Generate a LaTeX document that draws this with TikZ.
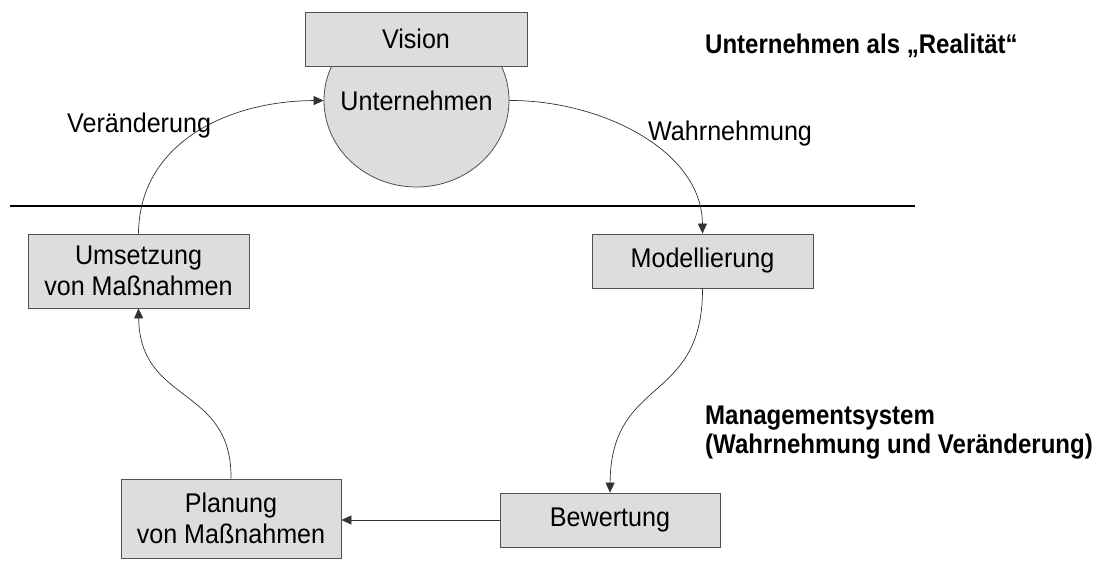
\documentclass[tikz,border=0pt]{standalone}
\usepackage{fontspec}
\setmainfont{Liberation Sans}[FakeStretch=0.93]
\newfontfamily\headfont{Liberation Sans}[FakeStretch=0.89]
\usetikzlibrary{arrows.meta,shapes.geometric}
\definecolor{boxfill}{RGB}{221,221,221}
\definecolor{boxline}{RGB}{80,80,80}
\definecolor{linkcol}{RGB}{50,50,50}
\begin{document}
\begin{tikzpicture}[x=1pt,y=-1pt,
  every node/.style={font=\fontsize{27}{31}\selectfont, inner sep=0pt},
  procbox/.style={draw=boxline, fill=boxfill, line width=0.8pt, align=center},
  realm/.style={draw=boxline, fill=boxfill, line width=0.8pt, ellipse, minimum width=185pt, minimum height=173pt},
  heading/.style={font=\fontsize{27}{31}\selectfont\headfont\bfseries, anchor=base west},
  tag/.style={anchor=base west},
  link/.style={draw=linkcol, line width=0.7pt, -{Triangle[length=10pt,width=9pt]}}
]
\useasboundingbox (0,0) rectangle (1105,560);

% the enterprise seen as reality
\node[realm] (firm) at (416.5,100.5) {};
\node (firmtext) at (firm.center) {Unternehmen};
\node[procbox, minimum width=222pt, minimum height=54pt] (vision) at (416,39) {Vision};

% boundary between reality and management system
\coordinate (hlA) at (10,206);
\coordinate (hlB) at (915,206);
\draw[line width=1.5pt] (hlA) -- (hlB);

% process steps
\node[procbox, minimum width=221pt, minimum height=74pt] (umsetz) at (138.5,271) {Umsetzung\\von Maßnahmen};
\node[procbox, minimum width=221pt, minimum height=54pt] (modell) at (702.5,261) {Modellierung};
\node[procbox, minimum width=220pt, minimum height=54pt] (bewert) at (610,520) {Bewertung};
\node[procbox, minimum width=220pt, minimum height=79pt] (planung) at (231,518.5) {Planung\\von Maßnahmen};

% cycle connectors
\draw[link] (umsetz.north) .. controls (139,145) and (225,101) .. (firm.west);
\draw[link] (firm.east) .. controls (600,100) and (702,150) .. (modell.north);
\draw[link] (modell.south) .. controls (703,405) and (611,375) .. (bewert.north);
\draw[link] (bewert.west) -- (bewert.west -| planung.east);
\draw[link] (planung.north) .. controls (232,385) and (140,405) .. (umsetz.south);

% connector labels
\node[tag] (lblchange) at (67,132) {Veränderung};
\node[tag] (lblperceive) at (648,140) {Wahrnehmung};

% headings
\node[heading] (hreal) at (705,53) {Unternehmen als „Realität“};
\node[heading] (hmgmt) at (705,424) {Managementsystem};
\node[heading] (hmgmt2) at (705,453) {(Wahrnehmung und Veränderung)};
\end{tikzpicture}
\end{document}
